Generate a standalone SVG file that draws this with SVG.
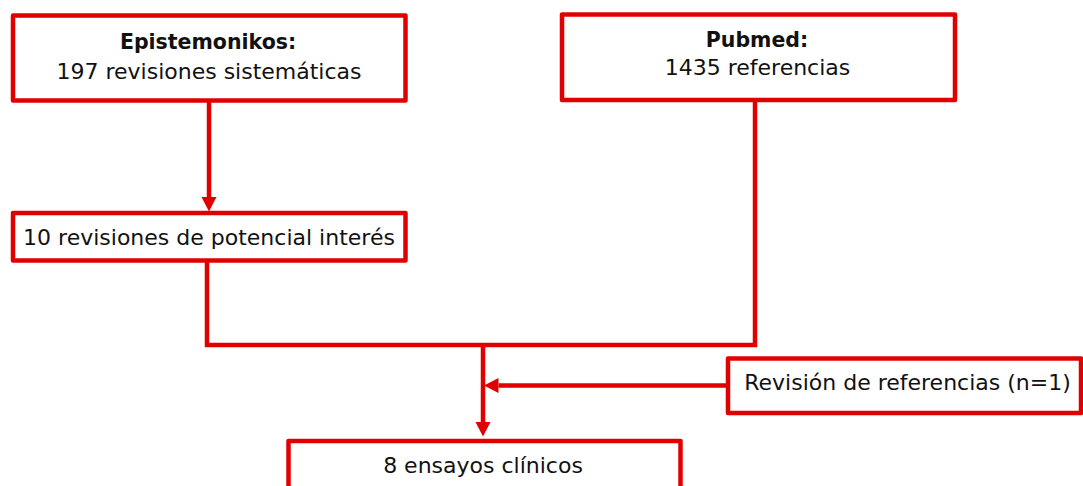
<svg xmlns="http://www.w3.org/2000/svg" width="1083" height="486" viewBox="0 0 1083 486">
<style>
.box{fill:#fff;stroke:#E10000;stroke-width:4.5;stroke-linejoin:round}
.ln{fill:none;stroke:#E10000;stroke-width:4.5}
text{font-family:"DejaVu Sans",Verdana,sans-serif;font-size:22px;fill:#111;text-anchor:middle}
.b{font-weight:bold;font-size:20.5px}
</style>
<defs>
<marker id="ah" markerUnits="userSpaceOnUse" markerWidth="16" markerHeight="16" refX="0" refY="7.5" orient="auto">
<path d="M0,0 L14.5,7.5 L0,15 Z" fill="#E10000"/>
</marker>
</defs>
<g id="connectors">
<line class="ln" x1="209" y1="100.5" x2="209" y2="197" marker-end="url(#ah)"/>
<polyline class="ln" points="207,260.5 207,345 755,345 755,100"/>
<line class="ln" x1="483" y1="345" x2="483" y2="422" marker-end="url(#ah)"/>
<line class="ln" x1="728" y1="385.5" x2="498.5" y2="385.5" marker-end="url(#ah)"/>
</g>
<g id="epistemonikos">
<rect class="box" x="13" y="15.5" width="392.5" height="85"/>
<text class="b" x="208" y="48.5">Epistemonikos:</text>
<text x="209" y="79">197 revisiones sistemáticas</text>
</g>
<g id="revisiones">
<rect class="box" x="13" y="213" width="392.5" height="47.5"/>
<text x="209" y="245">10 revisiones de potencial interés</text>
</g>
<g id="pubmed">
<rect class="box" x="562" y="14.5" width="393" height="85.5"/>
<text class="b" x="757" y="46.5">Pubmed:</text>
<text x="757.5" y="75">1435 referencias</text>
</g>
<g id="revision-referencias">
<rect class="box" x="728" y="358.5" width="353" height="54.5"/>
<text x="907.5" y="390">Revisión de referencias (n=1)</text>
</g>
<g id="ensayos">
<rect class="box" x="288.5" y="441" width="392" height="60"/>
<text x="483" y="473">8 ensayos clínicos</text>
</g>
</svg>
